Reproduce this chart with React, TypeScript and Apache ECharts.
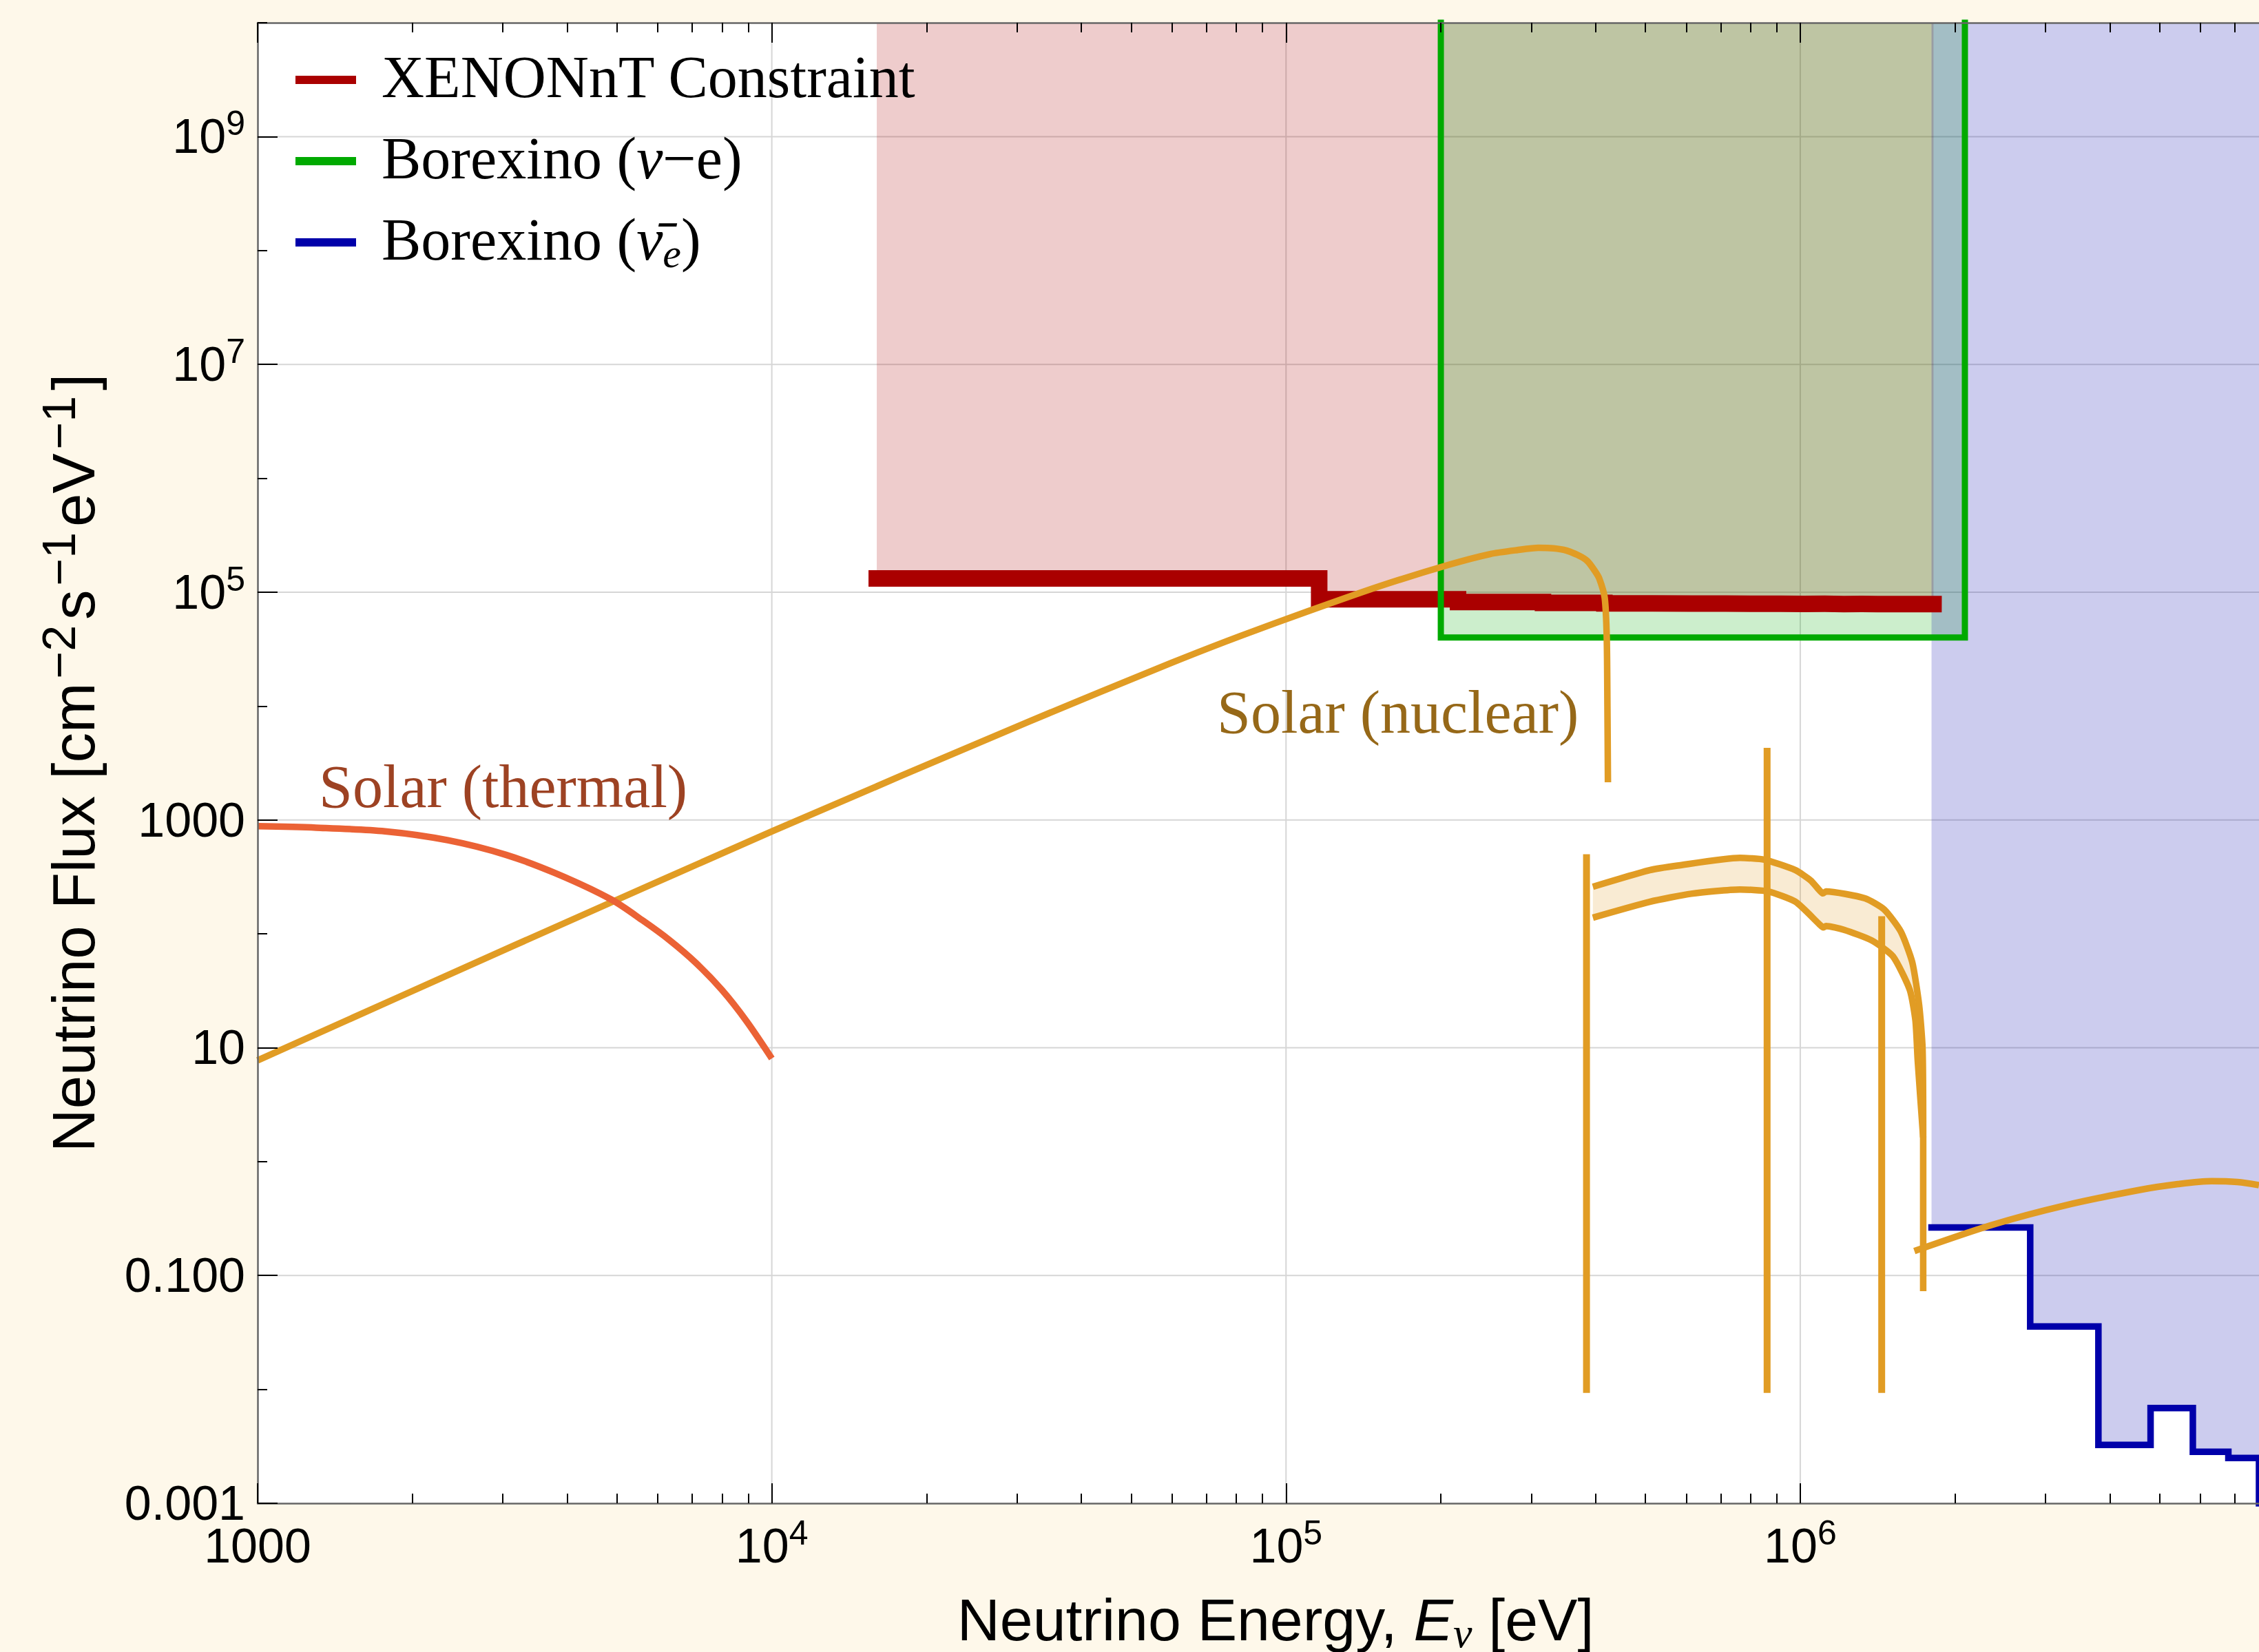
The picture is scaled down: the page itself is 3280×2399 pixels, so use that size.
import React, { useEffect, useRef } from 'react';
import * as echarts from 'echarts';

// ---------------- axis ranges & ticks ----------------
const X_MIN = 1000;
const X_MAX = 7.8e6;
const Y_MIN = 1e-3;
const Y_MAX = 1e10;

const xMajorTicks = [1e3, 1e4, 1e5, 1e6];
const xTickLabels = ['1000', '10^4', '10^5', '10^6'];
const xDecades = [1e3, 1e4, 1e5, 1e6];
const xMinorMultipliers = [2, 3, 4, 5, 6, 7, 8, 9];
const xGridLines = [1e4, 1e5, 1e6];

const yLabelTicks = [1e-3, 1e-1, 1e1, 1e3, 1e5, 1e7, 1e9];
const yTickLabels = ['0.001', '0.100', '10', '1000', '10^5', '10^7', '10^9'];
const yMinorTicks = [1e-2, 1e0, 1e2, 1e4, 1e6, 1e8, 1e10];
const yGridLines = [1e-1, 1e1, 1e3, 1e5, 1e7, 1e9];

// ---------------- data ----------------
// XENONnT constraint (step histogram, 100 keV bins)
const xenonEdges = [16e3, 116e3, 216e3, 316e3, 416e3, 516e3, 616e3, 716e3, 816e3, 916e3, 1016e3, 1116e3, 1216e3, 1316e3, 1416e3, 1516e3, 1616e3, 1716e3, 1816e3];
const xenonFlux = [1.32e5, 8.67e4, 8.2e4, 8.05e4, 7.97e4, 7.93e4, 7.95e4, 7.9e4, 7.92e4, 7.88e4, 7.9e4, 7.87e4, 7.88e4, 7.86e4, 7.87e4, 7.85e4, 7.86e4, 7.85e4];

// Borexino (nu-e) box: energy and flux of its outline
const borexinoBoxEnergy = [2e5, 2e5, 2.09e6, 2.09e6];
const borexinoBoxFlux = [1e11, 4e4, 4e4, 1e11];

// Borexino (anti-nu_e) step histogram
const antiEdges = [1.8e6, 2.8e6, 3.8e6, 4.8e6, 5.8e6, 6.8e6, 7.8e6];
const antiFlux = [0.264, 0.0357, 0.00325, 0.00686, 0.00283, 0.0025];
const antiTailFlux = 1e-4;

// Solar (thermal)
const thermalE = [1000, 1300, 1770, 2344, 3041, 3846, 4875, 5610, 6324, 7112, 8000, 8913, 10000];
const thermalF = [880, 855, 795, 664, 494, 332, 200, 131, 88.1, 55.8, 32.1, 17.3, 8.04];

// Solar (nuclear) pp spectrum
const ppE = [1000, 3162, 10000, 31623, 59704, 81470, 110917, 151705, 207014, 249459, 281838, 309742, 331131, 350752, 371535, 385478, 398107, 406443, 416579, 420431, 421697, 422669];
const ppF = [7.74, 79.4, 792, 7311, 23823, 41210, 68550, 112460, 173780, 216272, 234423, 244906, 242661, 232274, 208930, 187499, 154882, 132130, 89125, 39811, 10000, 2143];

// CNO band (upper / lower)
const cnoUpperE = [395100, 509500, 577000, 763200, 851100, 979000, 1047000, 1091000, 1107000, 1122000, 1336000, 1455000, 1568000, 1651000, 1703000, 1729000, 1734000, 1734000];
const cnoUpperF = [259.1, 361.9, 397.2, 464.3, 447.7, 361.9, 295, 239.9, 226.5, 235.5, 205.1, 164.1, 105, 56.4, 23.6, 9.9, 1.633, 0.0729];
const cnoLowerE = [395100, 509500, 613800, 763200, 864500, 979000, 1091000, 1108000, 1122000, 1216000, 1377000, 1514000, 1633000, 1675000, 1692000, 1734000];
const cnoLowerF = [138.7, 191, 224.9, 244.9, 236, 191, 120.5, 113.8, 117, 108.4, 87.5, 63.5, 32.2, 17.3, 7.72, 1.63];
const cnoBandEndIndexUpper = 15; // fill between curves up to where they merge
const cnoBandEndIndexLower = 14;

// 8B spectrum
const b8E = [1667000, 2355000, 3248000, 4571000, 5424000, 6310000, 7079000, 7798000];
const b8F = [0.1637, 0.2773, 0.4093, 0.5636, 0.6339, 0.673, 0.661, 0.621];

// Mono-energetic lines (7Be 384 keV, 7Be 862 keV, pep)
const lineEnergy = [3.84e5, 8.62e5, 1.44e6];
const lineTop = [500, 4300, 143];
const lineBottom = 0.0093;

// ---------------- helpers ----------------
const zip = (a: number[], b: number[]) => a.map((v, i) => [v, b[i]]);
const stepPoints = (edges: number[], vals: number[]) => {
  const pts: number[][] = [];
  vals.forEach((v, i) => {
    pts.push([edges[i], v]);
    pts.push([edges[i + 1], v]);
  });
  return pts;
};
const supFmt = (t: string) => {
  const p = t.split('^');
  return p.length === 2 ? `{b|${p[0]}}{s|${p[1]}}` : `{b|${t}}`;
};
const findLabel = (v: number, ticks: number[], labels: string[]) => {
  const i = ticks.findIndex((t) => Math.abs(Math.log10(t) - Math.log10(v)) < 1e-6);
  return i >= 0 ? supFmt(labels[i]) : '';
};

const ORANGE = '#E19C24';
const THERMAL = '#EB6235';
const RED = '#AA0000';
const GREEN = '#00AA00';
const BLUE = '#0000AA';
const BG = '#FEF8EA';

const LEGEND_XENON = 'XENONnT Constraint';
const LEGEND_BOREX = 'Borexino (ν−e)';
const LEGEND_ANTI = 'Borexino (ν̄e)';

const SANS = 'Liberation Sans';
const SERIF = 'Liberation Serif';

function buildOption() {
  const xenonPts = stepPoints(xenonEdges, xenonFlux);
  const boxPts = zip(borexinoBoxEnergy, borexinoBoxFlux);
  const antiPts = stepPoints(antiEdges, antiFlux);
  antiPts.push([antiEdges[antiEdges.length - 1], antiTailFlux]);
  const xMinorTicks = xDecades.flatMap((d) => xMinorMultipliers.map((m) => m * d));

  const line = (name: string, data: number[][], color: string, width: number, z: number, extra: any = {}) => ({
    type: 'line',
    name,
    data,
    z,
    showSymbol: false,
    symbol: 'none',
    silent: true,
    clip: true,
    emphasis: { disabled: true },
    lineStyle: { color, width, cap: 'butt', join: 'miter' },
    itemStyle: { color },
    ...extra,
  });

  const area = (name: string, data: number[][], color: string, z: number) => ({
    type: 'line',
    name,
    data,
    z,
    showSymbol: false,
    symbol: 'none',
    silent: true,
    clip: true,
    emphasis: { disabled: true },
    lineStyle: { width: 0, opacity: 0 },
    areaStyle: { color, origin: 'end', opacity: 1 },
  });

  const tickLineStyle = { color: '#000', width: 2 };
  const frameLine = { show: true, onZero: false, lineStyle: { color: '#666', width: 2.5 } };

  const xCommon = {
    type: 'log', logBase: 10, min: X_MIN, max: X_MAX, gridIndex: 0, z: 10,
    splitLine: { show: false }, minorTick: { show: false }, minorSplitLine: { show: false },
  };
  const yCommon = {
    type: 'log', logBase: 10, min: Y_MIN, max: Y_MAX, gridIndex: 0, z: 10,
    splitLine: { show: false }, minorTick: { show: false }, minorSplitLine: { show: false },
  };

  const labelRich = {
    b: { fontFamily: SANS, fontSize: 70, lineHeight: 88, color: '#000' },
    s: { fontFamily: SANS, fontSize: 50, lineHeight: 44, verticalAlign: 'top', color: '#000' },
  };

  return {
    animation: false,
    backgroundColor: BG,
    textStyle: { fontFamily: SANS },
    grid: { left: 374, right: 0, top: 33, bottom: 216, show: true, backgroundColor: '#FFFFFF', borderWidth: 0, containLabel: false, outerBoundsMode: 'none' },
    legend: {
      show: true,
      orient: 'vertical',
      left: 429,
      top: 62,
      padding: 0,
      itemWidth: 88,
      itemHeight: 12,
      itemGap: 10,
      icon: 'rect',
      selectedMode: false,
      data: [
        { name: LEGEND_XENON, itemStyle: { color: RED, borderWidth: 0 } },
        { name: LEGEND_BOREX, itemStyle: { color: GREEN, borderWidth: 0 } },
        { name: LEGEND_ANTI, itemStyle: { color: BLUE, borderWidth: 0 } },
      ],
      formatter: (name: string) => {
        if (name === LEGEND_BOREX) return '{r|Borexino (}{i|ν}{r|−e)}';
        if (name === LEGEND_ANTI) return '{r|Borexino (}{i|ν̄}{sb|e}{r|)}';
        return `{r|${name}}`;
      },
      textStyle: {
        fontFamily: SERIF, fontSize: 86, color: '#000', lineHeight: 100, padding: [0, 0, 8, 32],
        rich: {
          r: { fontFamily: SERIF, fontSize: 86, lineHeight: 100, color: '#000' },
          i: { fontFamily: SERIF, fontSize: 86, lineHeight: 100, fontStyle: 'italic', color: '#000' },
          sb: { fontFamily: SERIF, fontSize: 60, lineHeight: 56, fontStyle: 'italic', verticalAlign: 'bottom', color: '#000' },
        },
      },
    },
    xAxis: [
      {
        ...xCommon,
        position: 'bottom',
        axisLine: frameLine,
        axisTick: { show: true, inside: true, length: 29, lineStyle: tickLineStyle, customValues: xMajorTicks },
        axisLabel: {
          show: true, customValues: xMajorTicks, margin: 18, color: '#000',
          formatter: (v: number) => findLabel(v, xMajorTicks, xTickLabels),
          rich: labelRich,
        },
        name: '{n|Neutrino Energy, }{i|E}{sub|ν}{n| [eV]}',
        nameLocation: 'middle',
        nameGap: 119,
        nameTextStyle: {
          fontFamily: SANS, fontSize: 86, color: '#000', padding: [0, 0, 0, 50],
          rich: {
            n: { fontFamily: SANS, fontSize: 86, lineHeight: 100, color: '#000' },
            i: { fontFamily: SANS, fontSize: 86, lineHeight: 100, fontStyle: 'italic', color: '#000' },
            sub: { fontFamily: SERIF, fontSize: 62, lineHeight: 56, fontStyle: 'italic', verticalAlign: 'bottom', color: '#000' },
          },
        },
      },
      {
        ...xCommon,
        position: 'bottom',
        axisLine: { show: false },
        axisTick: { show: true, inside: true, length: 14, lineStyle: tickLineStyle, customValues: xMinorTicks },
        axisLabel: { show: false },
      },
      {
        ...xCommon,
        position: 'top',
        axisLine: frameLine,
        axisTick: { show: true, inside: true, length: 29, lineStyle: tickLineStyle, customValues: xMajorTicks },
        axisLabel: { show: false },
      },
      {
        ...xCommon,
        position: 'top',
        axisLine: { show: false },
        axisTick: { show: true, inside: true, length: 14, lineStyle: tickLineStyle, customValues: xMinorTicks },
        axisLabel: { show: false },
      },
    ],
    yAxis: [
      {
        ...yCommon,
        position: 'left',
        axisLine: frameLine,
        axisTick: { show: true, inside: true, length: 29, lineStyle: tickLineStyle, customValues: yLabelTicks },
        axisLabel: {
          show: true, customValues: yLabelTicks, margin: 18, color: '#000',
          formatter: (v: number) => findLabel(v, yLabelTicks, yTickLabels),
          rich: labelRich,
        },
        name: '{n|Neutrino Flux [cm}{s|−2}{n|s}{s|−1}{n|eV}{s|−1}{n|]}',
        nameLocation: 'middle',
        nameRotate: 90,
        nameGap: 213,
        nameTextStyle: {
          fontFamily: SANS, fontSize: 87, color: '#000',
          rich: {
            n: { fontFamily: SANS, fontSize: 87, lineHeight: 110, color: '#000' },
            s: { fontFamily: SANS, fontSize: 68, lineHeight: 58, verticalAlign: 'top', color: '#000', padding: [0, 8, 0, 6] },
          },
        },
      },
      {
        ...yCommon,
        position: 'left',
        axisLine: { show: false },
        axisTick: { show: true, inside: true, length: 14, lineStyle: tickLineStyle, customValues: yMinorTicks },
        axisLabel: { show: false },
      },
    ],
    graphic: [
      {
        type: 'text', x: 463, y: 1142, z: 20, silent: true,
        style: { text: 'Solar (thermal)', fontFamily: SERIF, fontSize: 88, fill: '#9D4223', align: 'left', verticalAlign: 'middle' },
      },
      {
        type: 'text', x: 1767, y: 1034, z: 20, silent: true,
        style: { text: 'Solar (nuclear)', fontFamily: SERIF, fontSize: 88, fill: '#966818', align: 'left', verticalAlign: 'middle' },
      },
    ],
    series: [
      {
        type: 'custom',
        name: 'gridlines',
        z: 1,
        silent: true,
        data: [[X_MIN, 1]],
        renderItem: (params: any, api: any) => {
          const cs = params.coordSys;
          const children: any[] = [];
          xGridLines.forEach((v) => {
            const p = api.coord([v, 1]);
            children.push({ type: 'line', shape: { x1: p[0], y1: cs.y, x2: p[0], y2: cs.y + cs.height }, style: { stroke: '#d6d6d6', lineWidth: 2 } });
          });
          yGridLines.forEach((v) => {
            const p = api.coord([X_MIN, v]);
            children.push({ type: 'line', shape: { x1: cs.x, y1: p[1], x2: cs.x + cs.width, y2: p[1] }, style: { stroke: '#d6d6d6', lineWidth: 2 } });
          });
          return { type: 'group', children };
        },
      },
      area('xenonArea', xenonPts, 'rgba(170,0,0,0.2)', 2),
      area('borexinoArea', boxPts, 'rgba(0,170,0,0.2)', 2),
      area('antiArea', antiPts, 'rgba(0,0,170,0.2)', 2),
      line(LEGEND_XENON, xenonPts, RED, 24, 3, { lineStyle: { color: RED, width: 24, cap: 'square', join: 'miter' } }),
      line(LEGEND_BOREX, boxPts, GREEN, 9, 4),
      line(LEGEND_ANTI, antiPts, BLUE, 9.5, 4, { lineStyle: { color: BLUE, width: 9.5, cap: 'square', join: 'miter' } }),
      {
        type: 'custom',
        name: 'cnoBand',
        z: 5,
        silent: true,
        data: [[cnoUpperE[0], cnoUpperF[0]]],
        renderItem: (params: any, api: any) => {
          const up = zip(cnoUpperE, cnoUpperF).slice(0, cnoBandEndIndexUpper + 1).map((p) => api.coord(p));
          const lo = zip(cnoLowerE, cnoLowerF).slice(0, cnoBandEndIndexLower + 1).map((p) => api.coord(p)).reverse();
          return { type: 'polygon', shape: { points: up.concat(lo) }, style: { fill: 'rgba(225,156,36,0.2)', stroke: 'none' } };
        },
      },
      line('cnoUpper', zip(cnoUpperE, cnoUpperF), ORANGE, 9.5, 6, { smooth: 0.2 }),
      line('cnoLower', zip(cnoLowerE, cnoLowerF), ORANGE, 9.5, 6, { smooth: 0.2 }),
      line('pp', zip(ppE, ppF), ORANGE, 9.5, 6, { smooth: 0.25 }),
      line('b8', zip(b8E, b8F), ORANGE, 9.5, 6, { smooth: 0.3 }),
      ...lineEnergy.map((e, i) => line(`line${i}`, [[e, lineBottom], [e, lineTop[i]]], ORANGE, 10, 6)),
      line('thermal', zip(thermalE, thermalF), THERMAL, 9.5, 6, { smooth: 0.3 }),
    ],
  };
}

export default function App() {
  const ref = useRef<HTMLDivElement>(null);
  useEffect(() => {
    if (!ref.current) return;
    const chart = echarts.init(ref.current, null, { renderer: 'svg' });
    chart.setOption(buildOption() as any);
    return () => chart.dispose();
  }, []);
  return (
    <div
      ref={ref}
      style={{ position: 'fixed', left: 0, top: 0, width: 3280, height: 2399, background: BG }}
    />
  );
}
